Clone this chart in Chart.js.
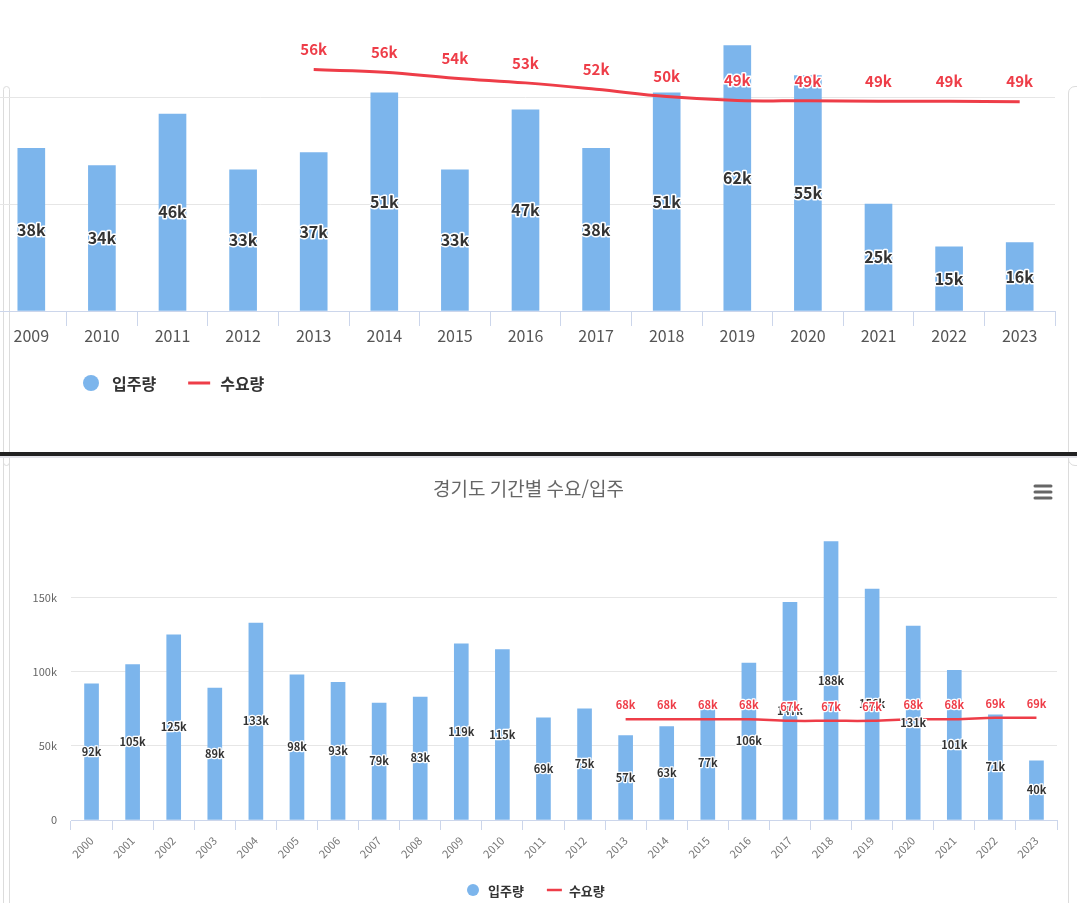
<!DOCTYPE html>
<html lang="ko">
<head>
<meta charset="utf-8">
<title>경기도 기간별 수요/입주</title>
<script src="https://cdn.jsdelivr.net/npm/chart.js@4.4.1/dist/chart.umd.min.js"></script>
<style>
  html, body { margin: 0; padding: 0; background: #fff; }
  body { width: 1077px; height: 903px; position: relative; overflow: hidden; }
  canvas { position: absolute; }
  #topChart { left: -4px; top: -10px; }
  #bottomChart { left: 0; top: 456px; }
  .panel { position: absolute; border: 1px solid #dcdcdc; border-radius: 7px; box-sizing: border-box; }
  .divider { position: absolute; left: 0; top: 452px; width: 1077px; height: 4px; background: #222; }
  .divider2 { position: absolute; left: 0; top: 456px; width: 1077px; height: 2px; background: #e4e4ea; }
</style>
</head>
<body>
<div class="panel" style="left:3px; top:86px; width:7px; height:380px;"></div>
<div class="panel" style="left:1068px; top:86px; width:20px; height:380px;"></div>
<div class="panel" style="left:3px; top:452px; width:7px; height:500px; border-radius:0;"></div>
<div class="panel" style="left:1068px; top:452px; width:20px; height:500px; border-radius:0;"></div>
<canvas id="topChart" width="1081" height="460"></canvas>
<canvas id="bottomChart" width="1077" height="447"></canvas>
<div class="divider"></div>
<div class="divider2"></div>
<script>
const FONT = '"Noto Sans CJK KR", "Noto Sans", sans-serif';
const BLUE = '#7cb5ec';
const RED = '#ee3d48';

// 위 차트 (단위: 천 세대)
const topYears = ['2009', '2010', '2011', '2012', '2013', '2014', '2015', '2016', '2017', '2018', '2019', '2020', '2021', '2022', '2023'];
const topSupply = [38, 34, 46, 33, 37, 51, 33, 47, 38, 51, 62, 55, 25, 15, 16];
const topDemand = [null, null, null, null, 56.4, 55.8, 54.4, 53.3, 51.8, 50.1, 49.2, 49.1, 49.0, 49.0, 48.9];

// 아래 차트: 경기도 기간별 수요/입주
const bottomTitle = '경기도 기간별 수요/입주';
const bottomYears = ['2000', '2001', '2002', '2003', '2004', '2005', '2006', '2007', '2008', '2009', '2010', '2011',
  '2012', '2013', '2014', '2015', '2016', '2017', '2018', '2019', '2020', '2021', '2022', '2023'];
const bottomSupply = [92, 105, 125, 89, 133, 98, 93, 79, 83, 119, 115, 69, 75, 57, 63, 77, 106, 147, 188, 156, 131, 101, 71, 40];
const bottomDemand = [null, null, null, null, null, null, null, null, null, null, null, null, null,
  68, 68, 68, 68, 67, 67, 67, 68, 68, 69, 69];
const bottomTicks = [0, 50, 100, 150];

const seriesNames = ['입주량', '수요량'];

// value labels drawn on bars / above the line
const valueLabels = {
  id: 'valueLabels',
  afterDatasetsDraw(chart, args, opts) {
    const ctx = chart.ctx;
    ctx.save();
    ctx.textAlign = 'center';
    ctx.textBaseline = 'middle';
    ctx.lineJoin = 'round';
    chart.data.datasets.forEach((ds, i) => {
      const meta = chart.getDatasetMeta(i);
      const o = ds.type === 'line' ? opts.line : opts.bar;
      ctx.font = `bold ${o.size}px ${FONT}`;
      ctx.lineWidth = o.outline;
      ctx.strokeStyle = '#fff';
      ctx.fillStyle = o.color;
      meta.data.forEach((el, j) => {
        const v = ds.data[j];
        if (v == null) return;
        const y = ds.type === 'line' ? el.y - o.offset : (el.y + el.base) / 2;
        const t = Math.round(v) + 'k';
        ctx.strokeText(t, el.x, y);
        ctx.fillText(t, el.x, y);
      });
    });
    ctx.restore();
  }
};

// legend: circle for bars, short line for the demand line
const seriesLegend = {
  id: 'seriesLegend',
  afterDraw(chart, args, o) {
    const ctx = chart.ctx;
    ctx.save();
    ctx.font = `bold ${o.size}px ${FONT}`;
    ctx.textBaseline = 'middle';
    ctx.textAlign = 'left';
    let x = o.x;
    chart.data.datasets.forEach(ds => {
      if (ds.type === 'line') {
        ctx.strokeStyle = ds.borderColor;
        ctx.lineWidth = o.lineWidth;
        ctx.beginPath();
        ctx.moveTo(x, o.y);
        ctx.lineTo(x + o.symbol, o.y);
        ctx.stroke();
        x += o.symbol + o.lineGap;
      } else {
        ctx.fillStyle = ds.backgroundColor;
        ctx.beginPath();
        ctx.arc(x + o.radius, o.y, o.radius, 0, Math.PI * 2);
        ctx.fill();
        x += o.radius * 2 + o.textGap;
      }
      ctx.fillStyle = '#333';
      ctx.fillText(ds.label, x, o.y + 1);
      x += ctx.measureText(ds.label).width + o.itemGap;
    });
    ctx.restore();
  }
};

const menuIcon = {
  id: 'menuIcon',
  afterDraw(chart, args, o) {
    if (!o.show) return;
    const ctx = chart.ctx;
    ctx.save();
    ctx.strokeStyle = '#666';
    ctx.lineWidth = 3;
    ctx.lineCap = 'round';
    [0, 6, 12].forEach(d => {
      ctx.beginPath();
      ctx.moveTo(o.x, o.y + d);
      ctx.lineTo(o.x + 16, o.y + d);
      ctx.stroke();
    });
    ctx.restore();
  }
};

new Chart(document.getElementById('topChart'), {
  type: 'bar',
  data: {
    labels: topYears,
    datasets: [{
      type: 'bar',
      label: seriesNames[0],
      data: topSupply,
      backgroundColor: BLUE,
      barThickness: 27,
      order: 1
    }, {
      type: 'line',
      label: seriesNames[1],
      data: topDemand,
      borderColor: RED,
      borderWidth: 3,
      pointRadius: 0,
      tension: 0.4,
      order: 0
    }]
  },
  options: {
    responsive: false,
    devicePixelRatio: 1,
    animation: false,
    layout: { padding: { top: 0, left: 0, right: 22, bottom: 99 } },
    scales: {
      x: {
        grid: { drawOnChartArea: false, tickLength: 15, tickColor: '#ccd6eb' },
        border: { color: '#ccd6eb' },
        ticks: { color: '#555', font: { family: FONT, size: 16 }, padding: 0, maxRotation: 0 },
        afterFit(scale) { scale.height = 40; }
      },
      y: {
        min: 0,
        max: 75,
        ticks: { display: false, stepSize: 25 },
        grid: { color: '#e6e6e6', drawTicks: false },
        border: { display: false },
        afterFit(scale) { scale.width = 0; }
      }
    },
    plugins: {
      legend: { display: false },
      tooltip: { enabled: false },
      valueLabels: {
        bar: { size: 16, color: '#333', outline: 3 },
        line: { size: 15, color: RED, outline: 3, offset: 20 }
      },
      seriesLegend: { x: 87, y: 393, size: 16, radius: 8, textGap: 13, symbol: 22, lineGap: 10, lineWidth: 3, itemGap: 32 },
      menuIcon: { show: false }
    }
  },
  plugins: [valueLabels, seriesLegend, menuIcon]
});

new Chart(document.getElementById('bottomChart'), {
  type: 'bar',
  data: {
    labels: bottomYears,
    datasets: [{
      type: 'bar',
      label: seriesNames[0],
      data: bottomSupply,
      backgroundColor: BLUE,
      barThickness: 14,
      order: 1
    }, {
      type: 'line',
      label: seriesNames[1],
      data: bottomDemand,
      borderColor: RED,
      borderWidth: 2.5,
      pointRadius: 0,
      tension: 0.4,
      order: 0
    }]
  },
  options: {
    responsive: false,
    devicePixelRatio: 1,
    animation: false,
    layout: { padding: { top: 0, left: 0, right: 20, bottom: 33 } },
    scales: {
      x: {
        grid: { drawOnChartArea: false, tickLength: 10, tickColor: '#ccd6eb' },
        border: { color: '#ccd6eb' },
        ticks: { color: '#777', font: { family: FONT, size: 11 }, padding: 4, minRotation: 45, maxRotation: 45, autoSkip: false },
        afterFit(scale) { scale.height = 50; }
      },
      y: {
        min: 0,
        max: 200,
        ticks: {
          stepSize: 50,
          color: '#666',
          padding: 14,
          font: { family: FONT, size: 11 },
          callback: v => bottomTicks.includes(v) ? (v === 0 ? '0' : v + 'k') : ''
        },
        grid: {
          drawTicks: false,
          color: c => (c.tick && bottomTicks.includes(c.tick.value)) ? '#e6e6e6' : 'rgba(0,0,0,0)'
        },
        border: { display: false },
        afterFit(scale) { scale.width = 71; }
      }
    },
    plugins: {
      title: {
        display: true,
        text: bottomTitle,
        color: '#666',
        font: { family: FONT, size: 19, weight: 'normal' },
        padding: { top: 21, bottom: 24 }
      },
      legend: { display: false },
      tooltip: { enabled: false },
      valueLabels: {
        bar: { size: 11, color: '#333', outline: 2.5 },
        line: { size: 11, color: RED, outline: 2.5, offset: 14 }
      },
      seriesLegend: { x: 467, y: 434, size: 13, radius: 6, textGap: 9, symbol: 15, lineGap: 7, lineWidth: 2.5, itemGap: 23 },
      menuIcon: { show: true, x: 1035, y: 30 }
    }
  },
  plugins: [valueLabels, seriesLegend, menuIcon]
});
</script>
</body>
</html>
